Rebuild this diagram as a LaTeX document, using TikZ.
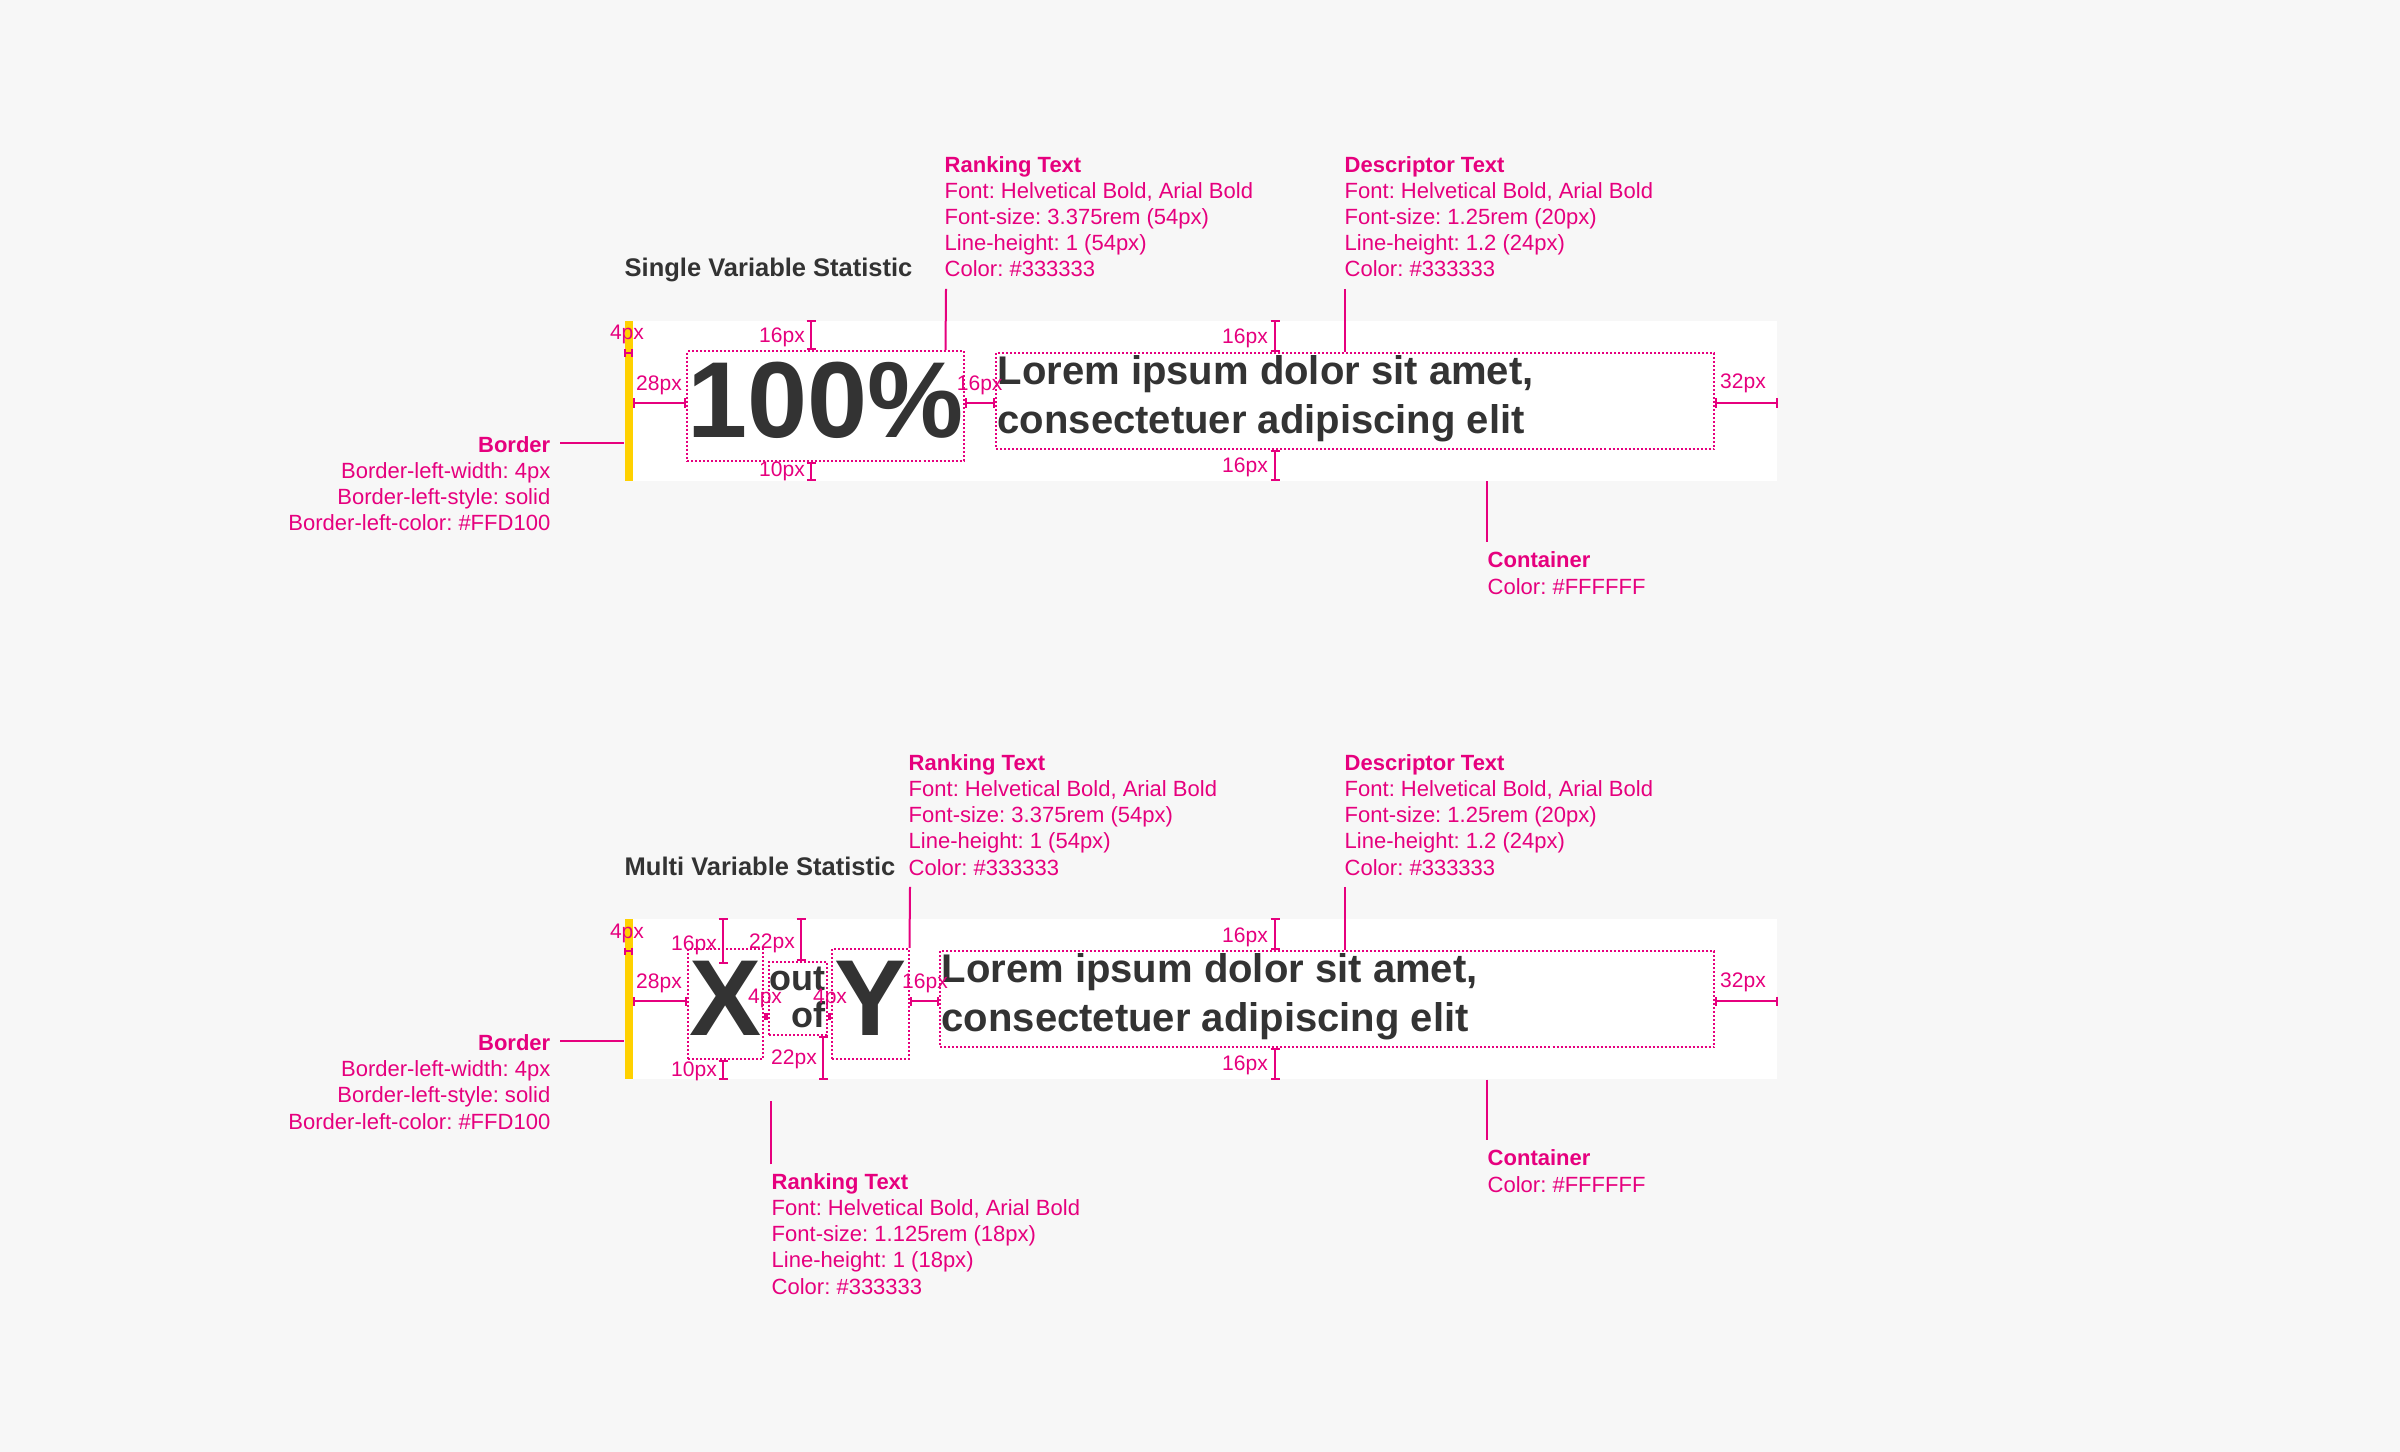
\documentclass[tikz,border=0pt]{standalone}
\usepackage{fontspec}
\setmainfont{Liberation Sans}
\usepackage{xcolor}
\definecolor{pagegray}{HTML}{F7F7F7}
\definecolor{inkgray}{HTML}{333333}
\definecolor{specpink}{HTML}{E6007E}
\definecolor{baryellow}{HTML}{FFD100}
\usepackage{tikz}
\usetikzlibrary{arrows.meta}
\frenchspacing

\begin{document}
\begin{tikzpicture}[x=0.01cm, y=-0.01cm,
	lead/.style={specpink, line width=0.02cm},
	measure/.style={specpink, line width=0.02cm, {Bar[width=0.09cm]}-{Bar[width=0.09cm]}},
	tinymeasure/.style={specpink, line width=0.02cm, {Bar[width=0.07cm]}-{Bar[width=0.07cm]}},
	pxlabel/.style={specpink, font=\fontsize{5.98}{7}\selectfont, inner sep=0, anchor=base},
	dotbox/.style={draw=specpink, line width=0.02cm, dash pattern=on 0.02cm off 0.02cm, inner sep=0},
	note/.style={specpink, font=\fontsize{6.26}{7.4}\selectfont, inner sep=0, align=left, anchor=base west},
	heading/.style={inkgray, font=\fontsize{7.25}{8.5}\selectfont\bfseries, inner sep=0, anchor=base west},
	bigfig/.style={dotbox, text=inkgray, font=\fontsize{30.73}{30.73}\selectfont\bfseries, text height=0.86cm, text depth=0.24cm},
	outof/.style={inkgray, font=\fontsize{10.24}{10.24}\selectfont\bfseries, inner sep=0, anchor=base east},
	lorem/.style={inkgray, font=\fontsize{11.38}{13.66}\selectfont\bfseries, inner sep=0, align=left, anchor=base west}]
	\useasboundingbox (0,0) rectangle (2400,1452);
	\fill[pagegray] (0,0) rectangle (2400,1452);

	% notes are placed at the baseline of their last line
	\foreach \dy/\dl/\dw/\rx/\kind in {0/995/7.18cm/944/Single, 598/939/7.74cm/908/Multi} {
		\begin{scope}[shift={(0,\dy)}]
		\coordinate (mid) at (0,403);
		\coordinate (lrow) at (0,390);
		\node[heading] (title) at (624,277) {\kind{} Variable Statistic};
		\node[fill=white, inner sep=0, minimum width=11.52cm, minimum height=1.6cm, anchor=north west] (card) at (624,320) {};
		\node[fill=baryellow, inner sep=0, minimum width=0.08cm, minimum height=1.6cm, anchor=north west] (bar) at (624,320) {};
		\node[dotbox, minimum width=\dw, minimum height=0.96cm, anchor=north west] (dbox) at (\dl,352) {};
		\node[lorem] (lorem) at (\dl+2,433) {Lorem ipsum dolor sit amet,\\consectetuer adipiscing elit};

		\ifnum\dy=0
			\node[bigfig, minimum width=2.75cm] (fig) at (825.5,406) {100\%};
			\coordinate (col) at (811,0);
			\draw[measure] (col |- card.north) -- (col |- fig.north);
			\draw[measure] (col |- fig.south) -- (col |- card.south);
			\node[pxlabel] (top16) at (782,343) {16px};
			\node[pxlabel] (low10) at (782,476) {10px};
			\draw[measure] (bar.east |- mid) -- (fig.west |- mid);
		\else
			\node[bigfig, minimum width=0.75cm] (xfig) at (725.5,406) {X};
			\node[dotbox, minimum width=0.58cm, minimum height=0.73cm] (ofbox) at (798,400.5) {};
			\node[outof] (out) at (826,392) {out};
			\node[outof] (of) at (826,429) {of};
			\node[bigfig, minimum width=0.77cm] (fig) at (870.5,406) {Y};
			\coordinate (col) at (723,0);
			\coordinate (colend) at (723,366);
			\draw[measure] (col |- card.north) -- (colend);
			\draw[measure] (col |- xfig.south) -- (col |- card.south);
			\node[pxlabel] (top16) at (694,352) {16px};
			\node[pxlabel] (low10) at (694,478) {10px};
			\coordinate (ocol) at (801,0);
			\coordinate (ucol) at (823,0);
			\draw[measure] (ocol |- card.north) -- (ocol |- ofbox.north);
			\draw[measure] (ucol |- ofbox.south) -- (ucol |- card.south);
			\node[pxlabel] (top22) at (772,350) {22px};
			\node[pxlabel] (low22) at (794,466) {22px};
			\coordinate (hrow) at (0,418);
			\draw[tinymeasure] (xfig.east |- hrow) -- (ofbox.west |- hrow);
			\draw[tinymeasure] (ofbox.east |- hrow) -- (fig.west |- hrow);
			\node[pxlabel] (gapl) at (765,405) {4px};
			\node[pxlabel] (gapr) at (830,405) {4px};
			\draw[measure] (bar.east |- mid) -- (xfig.west |- mid);
			\node[note] (small) at (771,696) {\textbf{Ranking Text}\\Font: Helvetical Bold, Arial Bold\\Font-size: 1.125rem (18px)\\Line-height: 1 (18px)\\Color: \#333333};
			\draw[lead] ([yshift=0.09cm]small.north west) -- ++(0,-63);
		\fi

		\draw[measure] (fig.east |- mid) -- (dbox.west |- mid);
		\draw[measure] (dbox.east |- mid) -- (card.east |- mid);
		\coordinate (dcol) at (1275,0);
		\draw[measure] (dcol |- card.north) -- (dcol |- dbox.north);
		\draw[measure] (dcol |- dbox.south) -- (dcol |- card.south);
		\coordinate (hrow) at (0,353);
		\draw[tinymeasure] (bar.west |- hrow) -- (bar.east |- hrow);
		\node[pxlabel] (w4) at (627,340) {4px};
		\node[pxlabel] (w28) at (659,390) {28px};
		\node[pxlabel] (gap16) at ([xshift=0.15cm]fig.east |- lrow) {16px};
		\node[pxlabel] (dtop16) at (1245,344) {16px};
		\node[pxlabel] (dlow16) at (1245,472) {16px};
		\node[pxlabel] (r32) at (1743,389) {32px};

		\node[note] (rank) at (\rx,277) {\textbf{Ranking Text}\\Font: Helvetical Bold, Arial Bold\\Font-size: 3.375rem (54px)\\Line-height: 1 (54px)\\Color: \#333333};
		\draw[lead] ([shift={(2,11)}]rank.south west) -- ([xshift=0.015cm]rank.west |- fig.north);
		\node[note] (desc) at (1344,277) {\textbf{Descriptor Text}\\Font: Helvetical Bold, Arial Bold\\Font-size: 1.25rem (20px)\\Line-height: 1.2 (24px)\\Color: \#333333};
		\draw[lead] ([shift={(1,11)}]desc.south west) -- ([xshift=0.01cm]desc.west |- dbox.north);
		\node[note, align=right, anchor=base east] (border) at (551,531) {\textbf{Border}\\Border-left-width: 4px\\Border-left-style: solid\\Border-left-color: \#FFD100};
		\draw[lead] ([shift={(9,7)}]border.north east) coordinate (bfoot) -- (bfoot -| bar.west);
		\node[note] (cont) at (1487,594) {\textbf{Container}\\Color: \#FFFFFF};
		\draw[lead] (cont.west |- card.south) -- ([yshift=0.09cm]cont.north west);
		\end{scope}
	}
\end{tikzpicture}
\end{document}
